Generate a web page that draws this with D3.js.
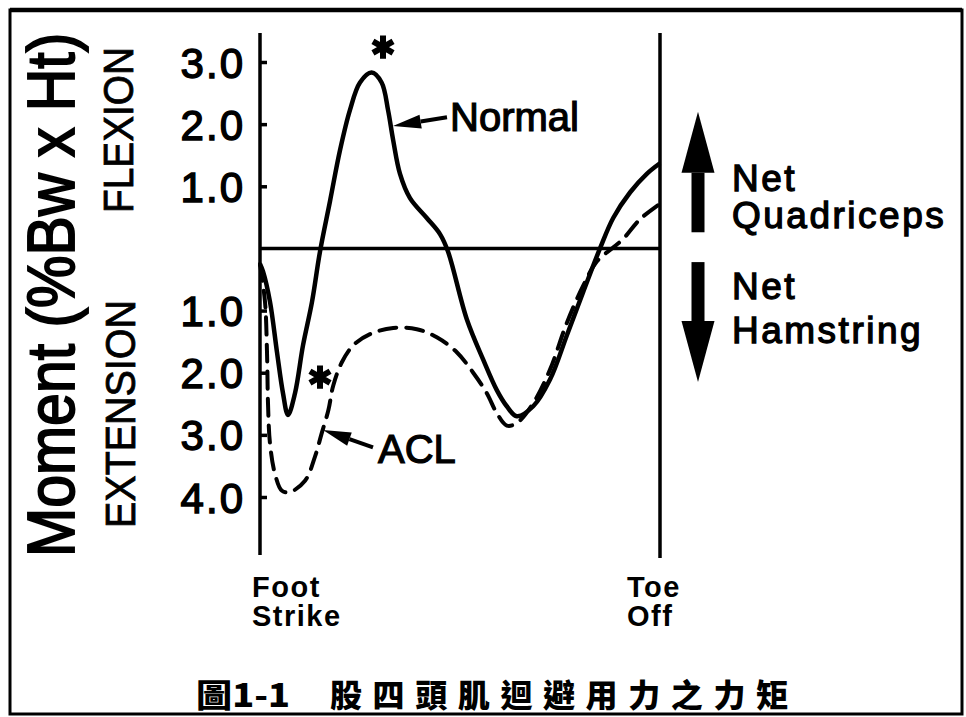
<!DOCTYPE html>
<html>
<head>
<meta charset="utf-8">
<title>股四頭肌迴避用力之力矩</title>
<script src="https://cdn.jsdelivr.net/npm/d3@7"></script>
<style>
  body { margin: 0; background: #fff; }
  svg text { font-family: "Liberation Sans", Arial, sans-serif; fill: #000; }
</style>
</head>
<body>
<svg id="chart" width="966" height="717"></svg>
<script>
// % of stance phase (0 = foot strike, 100 = toe off), moment in %Bw x Ht (flexion +)
var normalX = [0, 0.75, 2.5, 4.25, 5.75, 7, 8.75, 10.75, 13, 15, 17.5, 20, 22.5, 25, 27.9, 30.4, 32, 33.3, 35, 37.5, 41.7, 45, 47,
               51.7, 55.8, 59.2, 61.7, 64.2, 68.3, 72.5, 76.7, 80.8, 85, 88.3, 92.5, 96.7, 100];
var normalY = [-0.25, -0.37, -0.86, -1.67, -2.33, -2.68, -2.33, -1.56, -0.86, -0.05, 0.76, 1.58, 2.23, 2.67, 2.83, 2.67, 2.23, 1.74, 1.2, 0.81, 0.49, 0.23, -0.05,
               -1.14, -1.79, -2.28, -2.54, -2.7, -2.54, -2.11, -1.4, -0.7, 0, 0.49, 0.9, 1.2, 1.37];

var aclX = [0, 1.25, 1.75, 2, 2.5, 3.75, 5.5, 7.5, 11.25, 13.75, 15.4, 17.1, 18.3, 20.4, 23.3, 27.5, 33.3, 39.2, 44.2, 49.2, 53.3, 56.7, 59.2, 61.7, 64.2,
            68.3, 72.5, 76.7, 80.8, 84.2, 88, 90.75, 95, 100];
var aclY = [-0.25, -0.86, -1.67, -2.49, -3.14, -3.63, -3.9, -3.92, -3.74, -3.35, -2.98, -2.6, -2.21, -1.84, -1.56, -1.38, -1.28, -1.3, -1.43, -1.67, -2.0, -2.33, -2.65, -2.85, -2.81,
            -2.49, -1.95, -1.2, -0.6, -0.21, 0, 0.15, 0.47, 0.72];

var tickValues = [-4, -3, -2, -1, 1, 2, 3];
var sideLabels = ["FLEXION", "EXTENSION"];
var yTitle = "Moment (%Bw x Ht)";
var caption = ["圖1-1", "股四頭肌迴避用力之力矩"];

var svg = d3.select("#chart");

var x = d3.scaleLinear().domain([0, 100]).range([260, 660]);
var y = d3.scaleLinear().domain([-4, 3]).range([497, 62]);

// frame
svg.append("rect")
  .attr("x", 10).attr("y", 10)
  .attr("width", 952).attr("height", 704)
  .attr("fill", "none").attr("stroke", "#000").attr("stroke-width", 3);
svg.append("line")
  .attr("x1", 10).attr("x2", 962).attr("y1", 10).attr("y2", 10)
  .attr("stroke", "#000").attr("stroke-width", 4.5);

// axis lines
svg.append("line")
  .attr("x1", x(0)).attr("x2", x(0))
  .attr("y1", 33).attr("y2", 555)
  .attr("stroke", "#000").attr("stroke-width", 3.5);
svg.append("line")
  .attr("x1", x(100)).attr("x2", x(100))
  .attr("y1", 33).attr("y2", 558)
  .attr("stroke", "#000").attr("stroke-width", 3.5);
svg.append("line")
  .attr("x1", x(0)).attr("x2", x(100))
  .attr("y1", y(0)).attr("y2", y(0))
  .attr("stroke", "#000").attr("stroke-width", 3.5);

var yAxis = d3.axisLeft(y)
  .tickValues(tickValues)
  .tickSizeInner(-7)
  .tickSizeOuter(0)
  .tickPadding(15)
  .tickFormat(function(d) { return Math.abs(d).toFixed(1); });

var gy = svg.append("g")
  .attr("transform", "translate(" + x(0) + ",0)")
  .call(yAxis);
gy.select(".domain").remove();
gy.selectAll(".tick line").attr("stroke", "#000").attr("stroke-width", 3.5);
gy.selectAll(".tick text")
  .style("font-family", "'Liberation Sans', Arial, sans-serif")
  .style("font-size", "42px")
  .style("letter-spacing", "2px")
  .attr("dy", "0.36em")
  .attr("stroke", "#000").attr("stroke-width", 1.4);

// curves
var line = d3.line()
  .x(function(d) { return x(d[0]); })
  .y(function(d) { return y(d[1]); })
  .curve(d3.curveCatmullRom.alpha(0.5));

svg.append("path")
  .attr("d", line(d3.zip(aclX, aclY)))
  .attr("fill", "none").attr("stroke", "#000")
  .attr("stroke-width", 4)
  .attr("stroke-dasharray", "17,10")
  .attr("stroke-linecap", "round");

svg.append("path")
  .attr("d", line(d3.zip(normalX, normalY)))
  .attr("fill", "none").attr("stroke", "#000")
  .attr("stroke-width", 4.5)
  .attr("stroke-linejoin", "round");

// asterisks
var stars = [[30.75, 3.24], [15, -2.07]];
svg.selectAll(".star")
  .data(stars)
  .enter().append("path")
  .attr("class", "star")
  .attr("transform", function(d) { return "translate(" + x(d[0]) + "," + y(d[1]) + ")"; })
  .attr("d", d3.symbol(d3.symbolAsterisk, 380))
  .attr("fill", "none").attr("stroke", "#000").attr("stroke-width", 6);

// pointer arrows: [tailX, tailY, tipX, tipY]
var pointers = [[46.75, 2.11, 33.25, 1.97], [28.25, -3.2, 15.75, -2.92]];
pointers.forEach(function(p) {
  var x1 = x(p[0]), y1 = y(p[1]), x2 = x(p[2]), y2 = y(p[3]);
  var dx = x2 - x1, dy = y2 - y1, len = Math.sqrt(dx * dx + dy * dy);
  var ux = dx / len, uy = dy / len;
  var hl = 28, hw = 7;
  var bx = x2 - ux * hl, by = y2 - uy * hl;
  svg.append("line")
    .attr("x1", x1).attr("y1", y1).attr("x2", bx).attr("y2", by)
    .attr("stroke", "#000").attr("stroke-width", 4);
  svg.append("path")
    .attr("d", "M" + x2 + "," + y2 +
               "L" + (bx - uy * hw) + "," + (by + ux * hw) +
               "L" + (bx + uy * hw) + "," + (by - ux * hw) + "Z")
    .attr("fill", "#000");
});

// curve labels
var curveLabels = [["Normal", 47.5, 1.89], ["ACL", 29.5, -3.45]];
svg.selectAll(".clabel")
  .data(curveLabels)
  .enter().append("text")
  .attr("class", "clabel")
  .attr("x", function(d) { return x(d[1]); })
  .attr("y", function(d) { return y(d[2]); })
  .style("font-size", "40px")
  .attr("stroke", "#000").attr("stroke-width", 1.2)
  .text(function(d) { return d[0]; });

// net direction arrows
function bigArrow(vTail, vTip) {
  var cx = 698, yt = y(vTip), yb = y(vTail);
  var dir = yt < yb ? 1 : -1;
  var headBase = yt + dir * 61;
  svg.append("rect")
    .attr("x", cx - 6.5).attr("width", 13)
    .attr("y", Math.min(headBase, yb)).attr("height", Math.abs(yb - headBase))
    .attr("fill", "#000");
  svg.append("path")
    .attr("d", "M" + cx + "," + yt + "L" + (cx - 16.5) + "," + headBase + "L" + (cx + 16.5) + "," + headBase + "Z")
    .attr("fill", "#000");
}
bigArrow(0.26, 2.2);
bigArrow(-0.22, -2.15);

var netLabels = [["Net", 191], ["Quadriceps", 228], ["Net", 299], ["Hamstring", 343]];
svg.selectAll(".nlabel")
  .data(netLabels)
  .enter().append("text")
  .attr("class", "nlabel")
  .attr("x", 732)
  .attr("y", function(d) { return d[1]; })
  .style("font-size", "37px")
  .style("letter-spacing", "2.5px")
  .attr("stroke", "#000").attr("stroke-width", 1.3)
  .text(function(d) { return d[0]; });

// stance phase labels
var phaseLabels = [["Foot", 0, -8, 597], ["Strike", 0, -8, 626], ["Toe", 100, -33, 597], ["Off", 100, -33, 626]];
svg.selectAll(".plabel")
  .data(phaseLabels)
  .enter().append("text")
  .attr("class", "plabel")
  .attr("x", function(d) { return x(d[1]) + d[2]; })
  .attr("y", function(d) { return d[3]; })
  .style("font-size", "29px")
  .style("font-weight", "bold")
  .style("letter-spacing", "1.5px")
  .text(function(d) { return d[0]; });

// rotated titles
svg.append("text")
  .attr("transform", "translate(74,557) rotate(-90) scale(1,1.13)")
  .style("font-size", "59px")
  .attr("stroke", "#000").attr("stroke-width", 1.7)
  .text(yTitle);

svg.append("text")
  .attr("transform", "translate(133,213) rotate(-90)")
  .attr("textLength", 166).attr("lengthAdjust", "spacingAndGlyphs")
  .style("font-size", "42px")
  .attr("stroke", "#000").attr("stroke-width", 0.8)
  .text(sideLabels[0]);

svg.append("text")
  .attr("transform", "translate(135,528) rotate(-90)")
  .attr("textLength", 228).attr("lengthAdjust", "spacingAndGlyphs")
  .style("font-size", "42px")
  .attr("stroke", "#000").attr("stroke-width", 0.8)
  .text(sideLabels[1]);

// caption
svg.append("text")
  .attr("x", 196).attr("y", 707)
  .attr("textLength", 94).attr("lengthAdjust", "spacingAndGlyphs")
  .style("font-family", "'Noto Sans CJK TC', sans-serif")
  .style("font-size", "32px").style("font-weight", "900")
  .text(caption[0]);
svg.append("text")
  .attr("x", 330).attr("y", 707)
  .attr("textLength", 458).attr("lengthAdjust", "spacing")
  .style("font-family", "'Noto Sans CJK TC', sans-serif")
  .style("font-size", "32px").style("font-weight", "900")
  .text(caption[1]);
</script>
</body>
</html>
